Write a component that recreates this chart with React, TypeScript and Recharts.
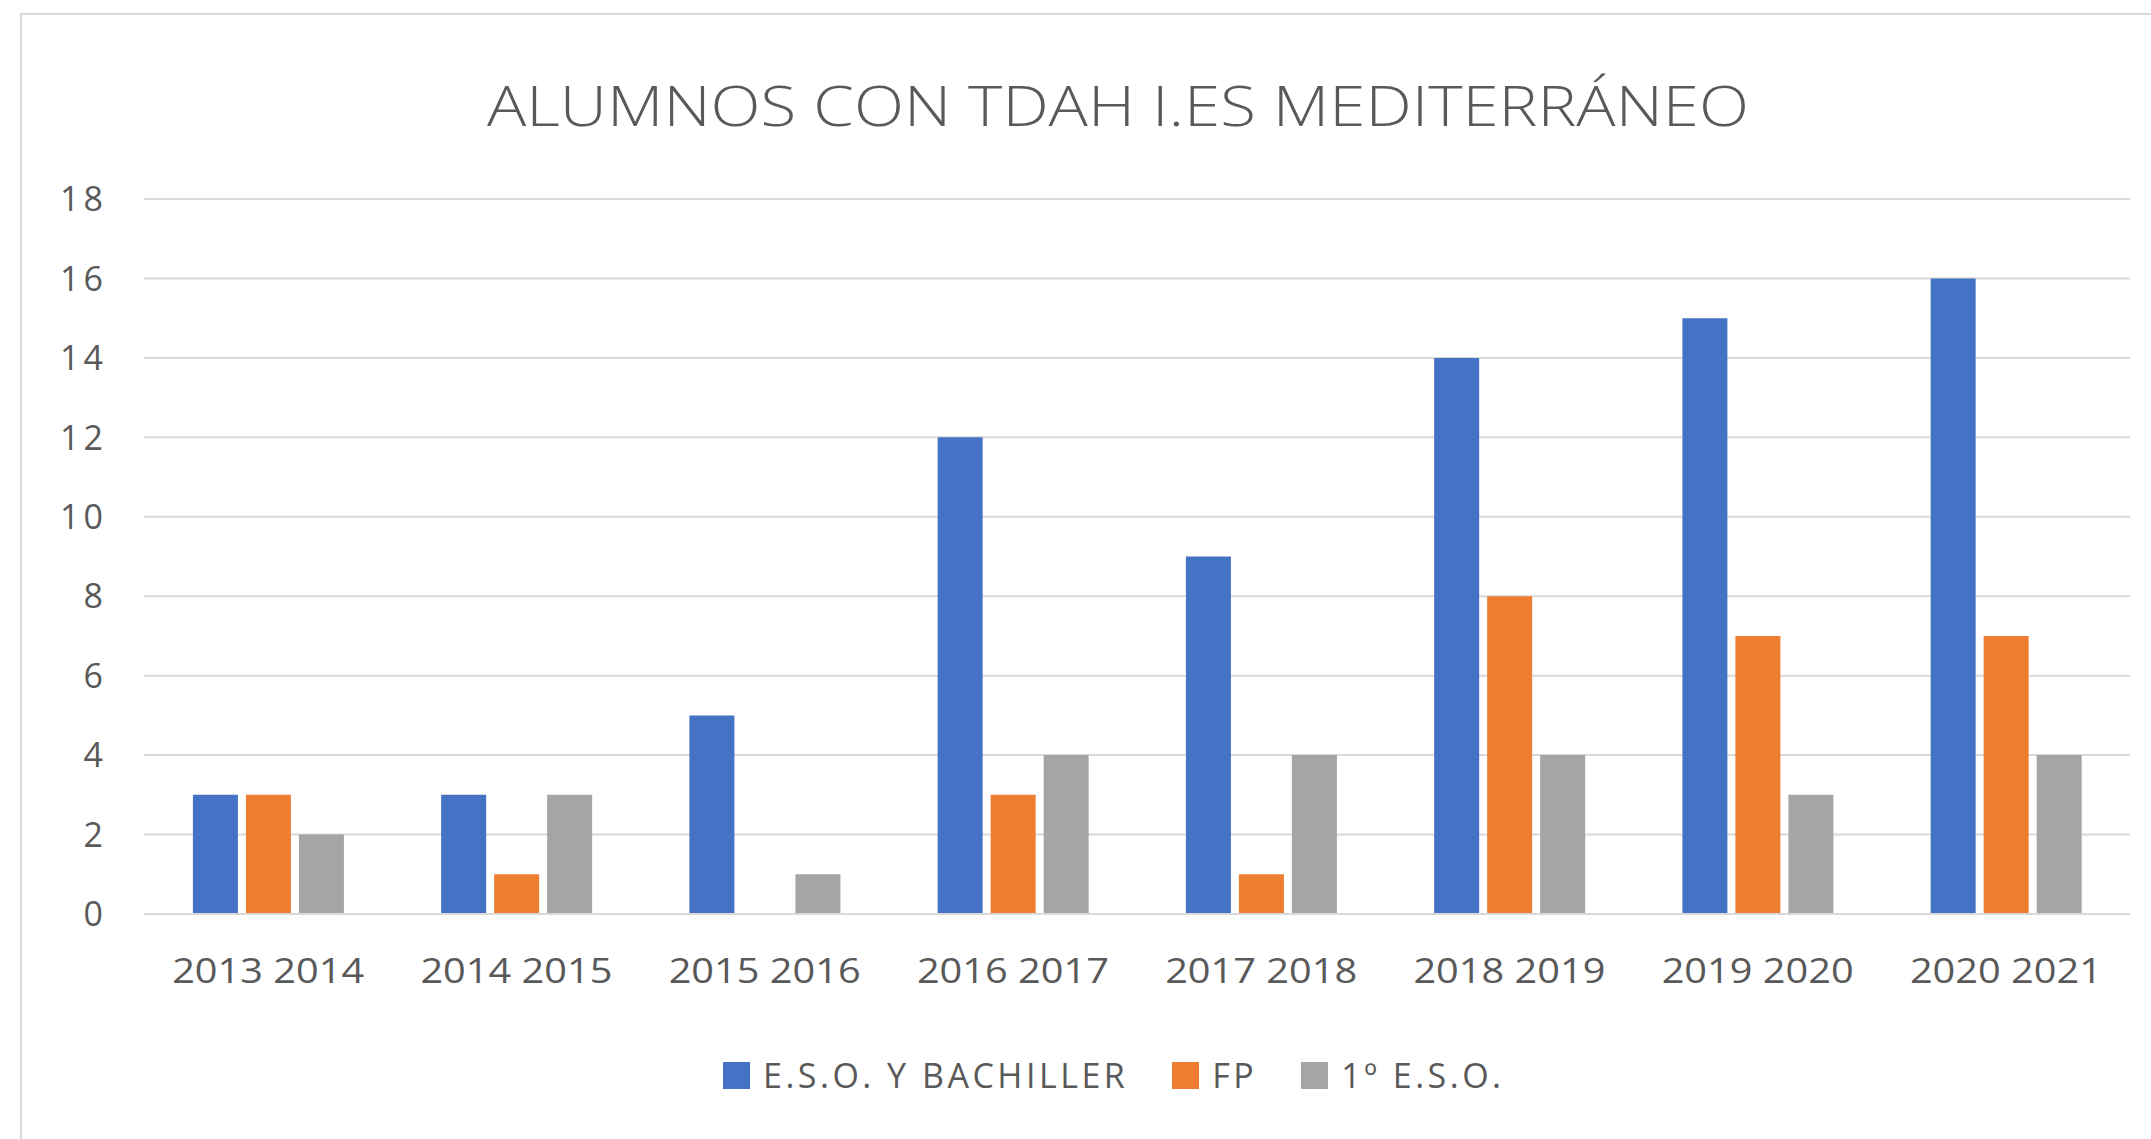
import { BarChart, Bar, XAxis, YAxis, CartesianGrid, Legend } from 'recharts';

const categories = [
  '2013 2014',
  '2014 2015',
  '2015 2016',
  '2016 2017',
  '2017 2018',
  '2018 2019',
  '2019 2020',
  '2020 2021',
];
const esoBach = [3, 3, 5, 12, 9, 14, 15, 16];
const fp = [3, 1, 0, 3, 1, 8, 7, 7];
const primeroEso = [2, 3, 1, 4, 4, 4, 3, 4];
const yTicks = [0, 2, 4, 6, 8, 10, 12, 14, 16, 18];

const series = [
  { key: 'eso', name: 'E.S.O. Y BACHILLER', color: '#4472C4' },
  { key: 'fp', name: 'FP', color: '#ED7D31' },
  { key: 'primero', name: '1º E.S.O.', color: '#A5A5A5' },
];

const chartData = categories.map((name, i) => ({
  name,
  eso: esoBach[i],
  fp: fp[i],
  primero: primeroEso[i],
}));

const FONT = '"Open Sans", "Liberation Sans", sans-serif';
const TEXT = '#595959';

function XTick({ x, y, payload }: any) {
  return (
    <text
      x={x}
      y={y + 69}
      textAnchor="middle"
      fontFamily={FONT}
      fontSize={34}
      fill={TEXT}
      textLength={192}
      lengthAdjust="spacingAndGlyphs"
    >
      {payload.value}
    </text>
  );
}

function YTick({ x, y, payload }: any) {
  return (
    <text
      x={x}
      y={y}
      dy="0.36em"
      textAnchor="end"
      fontFamily={FONT}
      fontSize={34}
      fill={TEXT}
      letterSpacing={4}
    >
      {payload.value}
    </text>
  );
}

function LegendContent() {
  return (
    <div style={{ display: 'flex', alignItems: 'center', paddingLeft: 723, fontFamily: FONT }}>
      {series.map((s) => (
        <div key={s.key} style={{ display: 'flex', alignItems: 'center', marginRight: 44 }}>
          <span style={{ width: 27, height: 27, background: s.color, display: 'inline-block', marginRight: 13 }} />
          <span style={{ fontSize: 34, color: TEXT, lineHeight: '40px', letterSpacing: 3.5 }}>{s.name}</span>
        </div>
      ))}
    </div>
  );
}

export default function App() {
  return (
    <div
      style={{
        position: 'absolute',
        left: 0,
        top: 0,
        width: 2151,
        height: 1139,
        overflow: 'hidden',
        background: '#fff',
      }}
    >
      <div
        style={{
          position: 'absolute',
          left: 20,
          top: 13,
          width: 2200,
          height: 1200,
          border: '2px solid #D9D9D9',
        }}
      />
      <svg style={{ position: 'absolute', left: 0, top: 0 }} width={2151} height={160}>
        <text
          x={1118}
          y={126}
          textAnchor="middle"
          fontFamily={FONT}
          fontWeight={300}
          fontSize={56}
          fill={TEXT}
          textLength={1262}
          lengthAdjust="spacingAndGlyphs"
        >
          ALUMNOS CON TDAH I.ES MEDITERRÁNEO
        </text>
      </svg>
      <div style={{ position: 'absolute', left: 0, top: 0 }}>
        <BarChart
          width={2151}
          height={1139}
          data={chartData}
          margin={{ top: 199, right: 21, bottom: 165, left: 44 }}
          barCategoryGap="19.7%"
          barGap={8}
        >
          <CartesianGrid vertical={false} stroke="#D9D9D9" strokeWidth={2} />
          <XAxis
            dataKey="name"
            height={60}
            axisLine={{ stroke: '#D9D9D9', strokeWidth: 2 }}
            tickLine={false}
            tickSize={0}
            tickMargin={0}
            tick={<XTick />}
            interval={0}
          />
          <YAxis
            width={100}
            domain={[0, 18]}
            ticks={yTicks}
            axisLine={false}
            tickLine={false}
            tickSize={0}
            tickMargin={37}
            tick={<YTick />}
          />
          <Legend
            layout="horizontal"
            verticalAlign="middle"
            wrapperStyle={{ left: 0, top: 1055, width: 2151 }}
            content={<LegendContent />}
          />
          {series.map((s) => (
            <Bar key={s.key} dataKey={s.key} name={s.name} fill={s.color} isAnimationActive={false} />
          ))}
        </BarChart>
      </div>
    </div>
  );
}
